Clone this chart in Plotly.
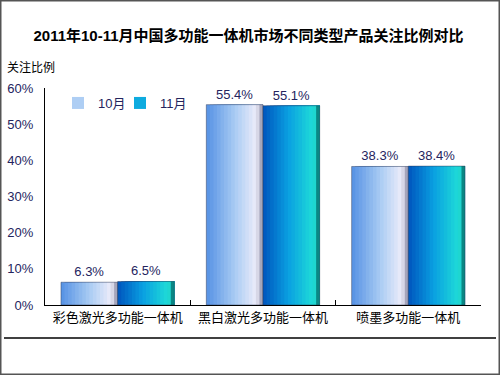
import plotly.graph_objects as go

categories = ['彩色激光多功能一体机', '黑白激光多功能一体机', '喷墨多功能一体机']
series_names = ['10月', '11月']
oct_values = [6.3, 55.4, 38.3]
nov_values = [6.5, 55.1, 38.4]
y_ticks = [0, 10, 20, 30, 40, 50, 60]

FONT = "Liberation Sans, Arial, Noto Sans CJK SC, sans-serif"
BAR_W = 0.39
N_STRIPS = 16

grad_oct = [(0.0, (85, 145, 228)), (0.5, (168, 203, 243)), (0.88, (236, 236, 250)), (1.0, (140, 140, 165))]
grad_nov = [(0.0, (0, 85, 190)), (0.45, (10, 160, 225)), (0.9, (32, 222, 215)), (1.0, (0, 95, 95))]


def interp(stops, t):
    for (t0, c0), (t1, c1) in zip(stops[:-1], stops[1:]):
        if t0 <= t <= t1:
            f = (t - t0) / (t1 - t0) if t1 > t0 else 0
            return 'rgb(%d,%d,%d)' % tuple(round(a + (b - a) * f) for a, b in zip(c0, c1))
    return 'rgb(%d,%d,%d)' % stops[-1][1]


fig = go.Figure()

for name, vals, stops, base, lg in [(series_names[0], oct_values, grad_oct, -BAR_W, 'legend'),
                                    (series_names[1], nov_values, grad_nov, 0.0, 'legend2')]:
    sw = BAR_W / N_STRIPS
    for i in range(N_STRIPS):
        t = (i + 0.5) / N_STRIPS
        fig.add_trace(go.Bar(
            x=categories, y=vals, offset=base + i * sw, width=BAR_W - i * sw,
            marker=dict(color=interp(stops, t), line=dict(width=0)),
            name=name, showlegend=(i == N_STRIPS // 2), legendgroup=name, legend=lg,
            hoverinfo='skip'))
    fig.add_trace(go.Bar(
        x=categories, y=vals, offset=base, width=BAR_W,
        marker=dict(color='rgba(0,0,0,0)', line=dict(width=1, color='rgba(40,50,80,0.45)')),
        text=[f'{v:.1f}%' for v in vals], textposition='outside',
        textfont=dict(size=13, color='#24245e', family=FONT),
        cliponaxis=False, showlegend=False, legendgroup=name, legend=lg, hoverinfo='skip'))

legend_common = dict(orientation='h', yanchor='middle', xanchor='left',
                     bgcolor='rgba(0,0,0,0)', font=dict(size=13, color='#24245e'),
                     itemwidth=30)

fig.update_layout(
    width=500, height=375,
    margin=dict(l=45, r=19, t=88, b=70, autoexpand=False),
    paper_bgcolor='white', plot_bgcolor='white',
    barmode='overlay',
    font=dict(family=FONT, size=13, color='black'),
    title=dict(text='<b>2011年10-11月中国多功能一体机市场不同类型产品关注比例对比</b>',
               x=0.497, xanchor='center', y=1 - 36 / 375, yanchor='middle',
               font=dict(size=15, color='black', family=FONT)),
    legend=dict(x=(58 - 45) / 436, y=(305 - 103) / 217, **legend_common),
    legend2=dict(x=(120 - 45) / 436, y=(305 - 103) / 217, **legend_common),
    showlegend=True,
)

fig.update_xaxes(
    type='category', showline=True, linecolor='black', linewidth=1,
    ticks='inside', tickson='boundaries', ticklen=5, tickcolor='black',
    tickfont=dict(size=13, color='black'), showgrid=False, zeroline=False,
    automargin=False,
)
fig.update_yaxes(
    range=[0, 60], tickvals=y_ticks, ticktext=[f'{v}%' for v in y_ticks],
    showline=True, linecolor='black', linewidth=1, showgrid=False, zeroline=False,
    tickfont=dict(size=13, color='#24245e'), ticks='', ticklabelstandoff=8,
    automargin=False,
)

# annotation: axis title
fig.add_annotation(text='关注比例', xref='paper', yref='paper',
                   x=(5 - 45) / 436, y=(305 - 68) / 217, xanchor='left', yanchor='middle',
                   showarrow=False, font=dict(size=12, color='black', family=FONT))

# separator line and outer frame
fig.add_shape(type='line', xref='paper', yref='paper',
              x0=(4 - 45) / 436, x1=(496 - 45) / 436,
              y0=(305 - 338) / 217, y1=(305 - 338) / 217,
              line=dict(color='black', width=1.5))
fig.add_shape(type='rect', xref='paper', yref='paper',
              x0=(0.75 - 45) / 436, x1=(499.25 - 45) / 436,
              y0=(305 - 374.25) / 217, y1=(305 - 0.75) / 217,
              line=dict(color='#555555', width=1.5), fillcolor='rgba(0,0,0,0)')

fig.write_html('out.html', config={'displayModeBar': False},
               post_script="document.body.style.margin='0';document.body.style.overflow='hidden';")
